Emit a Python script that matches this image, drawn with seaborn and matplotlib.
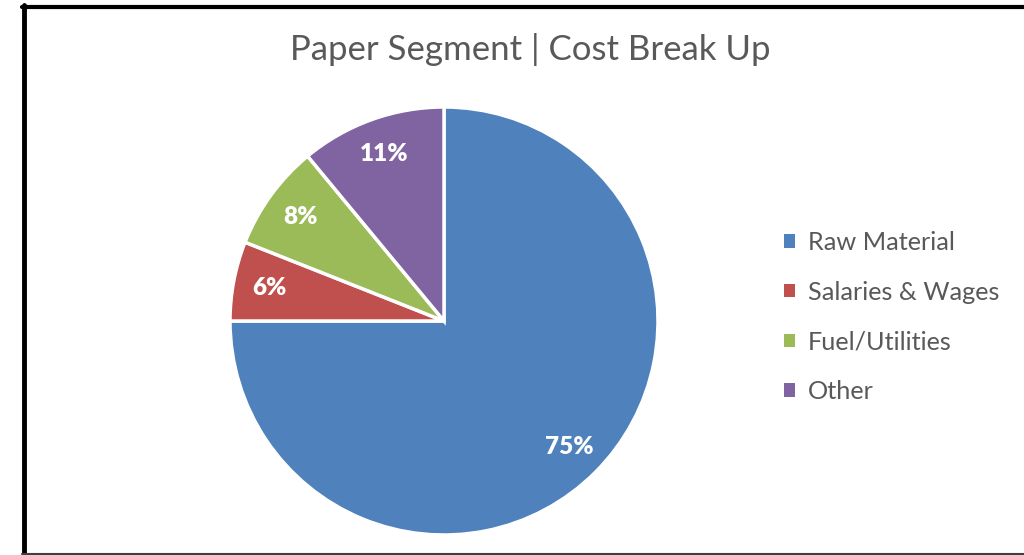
import matplotlib
matplotlib.use("Agg")
import matplotlib.pyplot as plt
from matplotlib.lines import Line2D
import seaborn as sns

# Cost components of the paper segment (share of total, %)
categories = ["Raw Material", "Salaries & Wages", "Fuel/Utilities", "Other"]
shares = [75, 6, 8, 11]
colors = ["#4F81BD", "#C0504D", "#9BBB59", "#8064A2"]
title = "Paper Segment | Cost Break Up"

sns.set_theme(style="white")
plt.rcParams["font.family"] = ["Lato", "DejaVu Sans"]

W, H, DPI = 1024, 555, 100
fig = plt.figure(figsize=(W / DPI, H / DPI), dpi=DPI)
fig.patch.set_facecolor("white")

# Pie centred at (444, 321) px with a 214 px radius
cx, cy, r = 444, 321, 214
ax = fig.add_axes([(cx - r) / W, (H - cy - r) / H, 2 * r / W, 2 * r / H])

wedges, texts, autotexts = ax.pie(
    shares,
    colors=sns.color_palette(colors),
    startangle=90,
    counterclock=False,
    autopct=lambda p: f"{p:.0f}%",
    pctdistance=0.83,
    wedgeprops=dict(edgecolor="white", linewidth=2.5),
    textprops=dict(color="white", fontsize=17.5, fontweight="heavy"),
)
ax.set_xlim(-1, 1)
ax.set_ylim(-1, 1)
ax.set_aspect("equal")
ax.axis("off")

fig.text(530 / W, 1 - 50 / H, title, ha="center", va="center",
         fontsize=25, color="#595959")

leg = fig.legend(
    wedges, categories,
    loc="center left",
    bbox_to_anchor=(784 / W, 1 - 317 / H),
    frameon=False,
    fontsize=18.2,
    borderpad=0,
    borderaxespad=0,
    handlelength=0.45,
    handleheight=0.45,
    handletextpad=0.5,
    labelspacing=1.06,
)
for t in leg.get_texts():
    t.set_color("#595959")
for h in leg.legend_handles:
    h.set_edgecolor("none")

# Chart frame: heavy left and top rules, thin grey bottom rule
fig.add_artist(Line2D([24 / W, 24 / W], [1 - 5 / H, 0], transform=fig.transFigure,
                      color="black", linewidth=3.5))
fig.add_artist(Line2D([22 / W, 1], [1 - 7 / H, 1 - 7 / H], transform=fig.transFigure,
                      color="black", linewidth=3))
fig.add_artist(Line2D([22 / W, 1], [1 / H, 1 / H], transform=fig.transFigure,
                      color="#404040", linewidth=1.5))

fig.savefig("out.png", dpi=DPI, facecolor="white")
